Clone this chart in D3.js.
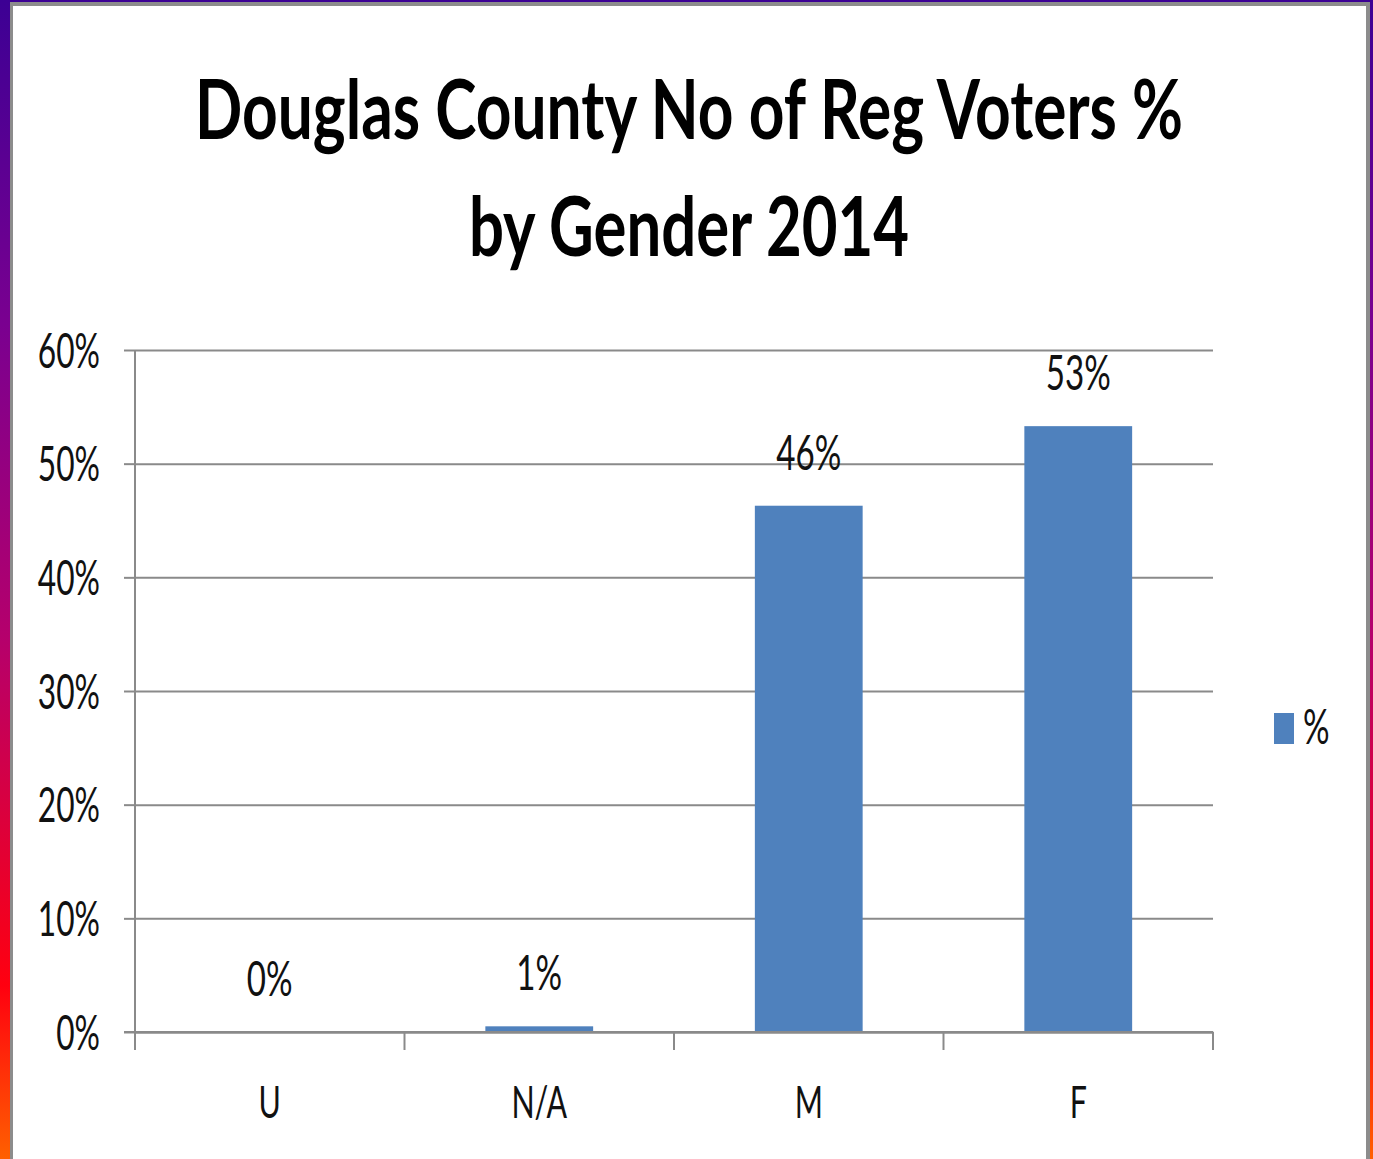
<!DOCTYPE html>
<html>
<head>
<meta charset="utf-8">
<script src="https://cdn.jsdelivr.net/npm/d3@7"></script>
<style>
  html, body { margin: 0; padding: 0; background: #fff; }
  svg { display: block; }
</style>
</head>
<body>
<svg id="chart" width="1373" height="1159"></svg>
<script>
// ---- Data ----
const categories = ["U", "N/A", "M", "F"];
const values = [0, 0.5, 46.3, 53.3];          // percent
const valueLabels = ["0%", "1%", "46%", "53%"];
const yTicks = [0, 10, 20, 30, 40, 50, 60];
const titleLines = ["Douglas County No of Reg Voters %", "by Gender 2014"];
const seriesName = "%";

const W = 1373, H = 1159;
const svg = d3.select("#chart");

// ---- Frame with gradient border ----
const defs = svg.append("defs");
const grad = defs.append("linearGradient").attr("id", "edge")
  .attr("x1", 0).attr("y1", 0).attr("x2", 0).attr("y2", 1);
[[0, "#3c0094"], [0.28, "#7a0090"], [0.55, "#b5006c"], [0.85, "#ff0010"], [1, "#ff6000"]]
  .forEach(([o, c]) => grad.append("stop").attr("offset", o).attr("stop-color", c));

svg.append("rect").attr("x", 0).attr("y", 0).attr("width", W).attr("height", H).attr("fill", "url(#edge)");
svg.append("rect").attr("x", 10).attr("y", 2).attr("width", 1360).attr("height", H).attr("fill", "#8c8c8c");
svg.append("rect").attr("x", 13).attr("y", 6).attr("width", 1353).attr("height", H).attr("fill", "#ffffff");

// ---- Scales ----
const plot = { left: 135, right: 1213, top: 350, bottom: 1032 };
const x = d3.scaleBand().domain(categories).range([plot.left, plot.right]).padding(0);
const y = d3.scaleLinear().domain([0, 60]).range([plot.bottom, plot.top]);
const barW = x.bandwidth() * 0.4;

const gridColor = "#8a8a8a";
const fontReg = "Lato, 'Open Sans', sans-serif";

// compress helper: squeeze text horizontally to a factor of natural width
function squeeze(sel, k) {
  sel.each(function() {
    const n = this.getComputedTextLength();
    d3.select(this).attr("textLength", n * k).attr("lengthAdjust", "spacingAndGlyphs");
  });
}
const K = 0.69;

// ---- Gridlines + y axis ----
const yAxis = d3.axisLeft(y).tickValues(yTicks)
  .tickSize(-(plot.right - plot.left)).tickPadding(0).tickFormat(d => d + "%");
const gy = svg.append("g").attr("transform", `translate(${plot.left},0)`).call(yAxis);
gy.select(".domain").remove();
gy.selectAll(".tick line").attr("stroke", gridColor).attr("stroke-width", 2);
gy.selectAll(".tick").append("line")
  .attr("x1", -11).attr("x2", 0).attr("stroke", gridColor).attr("stroke-width", 2);
gy.selectAll(".tick text")
  .attr("x", -35).attr("dy", "0.36em")
  .attr("fill", "#111").attr("font-family", fontReg).attr("font-size", 48)
  .attr("text-anchor", "end");
squeeze(gy.selectAll(".tick text"), 0.66);

// vertical axis line
svg.append("line").attr("x1", plot.left).attr("x2", plot.left)
  .attr("y1", plot.top).attr("y2", plot.bottom + 18)
  .attr("stroke", gridColor).attr("stroke-width", 2);

// ---- x axis ----
const xAxis = d3.axisBottom(x).tickSize(0).tickPadding(0);
const gx = svg.append("g").attr("transform", `translate(0,${plot.bottom})`).call(xAxis);
gx.select(".domain").attr("stroke", gridColor).attr("stroke-width", 2);
gx.selectAll(".tick line").remove();
gx.selectAll(".tick text")
  .attr("y", 86).attr("dy", 0)
  .attr("fill", "#111").attr("font-family", fontReg).attr("font-size", 44);
squeeze(gx.selectAll(".tick text"), K);
// boundary tick marks
const bounds = categories.map(c => x(c)).concat([x(categories[categories.length - 1]) + x.bandwidth()]);
svg.append("g").selectAll("line").data(bounds).join("line")
  .attr("x1", d => d).attr("x2", d => d)
  .attr("y1", plot.bottom).attr("y2", plot.bottom + 18)
  .attr("stroke", gridColor).attr("stroke-width", 2);

// ---- Bars ----
const barColor = "#4f81bd";
svg.append("g").selectAll("rect").data(categories).join("rect")
  .attr("x", (c) => x(c) + (x.bandwidth() - barW) / 2)
  .attr("width", barW)
  .attr("y", (c, i) => y(values[i]))
  .attr("height", (c, i) => plot.bottom - y(values[i]))
  .attr("fill", barColor);

// redraw baseline above bars
svg.append("line").attr("x1", plot.left - 11).attr("x2", plot.right)
  .attr("y1", plot.bottom).attr("y2", plot.bottom)
  .attr("stroke", gridColor).attr("stroke-width", 2);

// ---- Data labels ----
const dl = svg.append("g").selectAll("text").data(categories).join("text")
  .attr("x", c => x(c) + x.bandwidth() / 2)
  .attr("y", (c, i) => y(values[i]) - 36)
  .attr("text-anchor", "middle")
  .attr("fill", "#111").attr("font-family", fontReg).attr("font-size", 48)
  .text((c, i) => valueLabels[i]);
squeeze(dl, K);

// ---- Title (drawn at a smaller size and stretched vertically) ----
const titleWidths = [988, 440];
const titleBase = [139, 256];
const vScale = 1.37;
svg.append("g").selectAll("text").data(titleLines).join("text")
  .attr("transform", (d, i) => `translate(689,${titleBase[i]}) scale(1,${vScale})`)
  .attr("x", 0).attr("y", 0)
  .attr("text-anchor", "middle")
  .attr("font-family", "Lato, 'Open Sans', sans-serif").attr("font-weight", 700)
  .attr("font-size", 82 / vScale).attr("fill", "#000")
  .attr("textLength", (d, i) => titleWidths[i]).attr("lengthAdjust", "spacingAndGlyphs")
  .text(d => d);

// ---- Legend ----
const lg = svg.append("g");
lg.append("rect").attr("x", 1274).attr("y", 713).attr("width", 20).attr("height", 31).attr("fill", barColor);
const lt = lg.append("text").attr("x", 1303).attr("y", 744)
  .attr("fill", "#111").attr("font-family", fontReg).attr("font-size", 48).text(seriesName);
squeeze(lt, K);
</script>
</body>
</html>
